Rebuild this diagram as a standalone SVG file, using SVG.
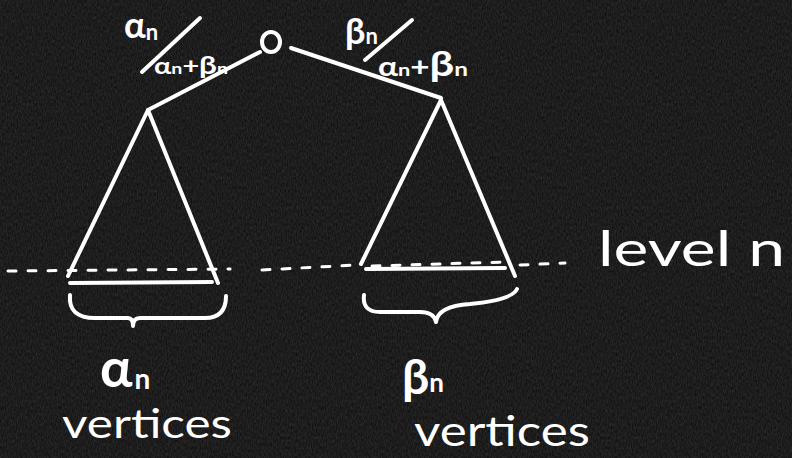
<svg xmlns="http://www.w3.org/2000/svg" width="792" height="458" viewBox="0 0 792 458">
<defs>
<filter id="chalk" x="0" y="0" width="100%" height="100%">
<feTurbulence type="fractalNoise" baseFrequency="0.8 0.3" numOctaves="2" seed="3" result="n"/>
<feColorMatrix in="n" type="matrix" values="0 0 0 0 0.25  0 0 0 0 0.25  0 0 0 0 0.25  0 0 0 0.3 0"/>
</filter>
<style>
.ln{stroke:#fff;stroke-width:4;fill:none;stroke-linecap:round;stroke-linejoin:round}
.dash{stroke:#fff;stroke-width:3;fill:none;stroke-linecap:round;stroke-dasharray:8 12}
.t{fill:#fff;font-family:Lato,"Open Sans",sans-serif;font-weight:700}
.v{fill:#fff;font-family:Lato,"Open Sans",sans-serif;font-weight:400}
</style>
</defs>
<rect width="792" height="458" fill="#0a0a0a"/>
<rect width="792" height="458" filter="url(#chalk)"/>
<g id="connectors">
<path class="ln" d="M260,52 L148,110"/>
<path class="ln" d="M291,48 L441,98"/>
<path class="dash" d="M8,271 L230,269"/>
<path class="dash" d="M262,270 L356,265"/>
<path class="dash" d="M372,266 L505,262"/>
<path class="dash" d="M520,265 L565,263" stroke-dasharray="4 8"/>
</g>
<g id="root">
<ellipse class="ln" cx="271" cy="42" rx="9" ry="10" stroke-width="5"/>
</g>
<g id="left-label">
<text class="t" x="124" y="38" font-size="36">α<tspan font-size="22" dy="2">n</tspan></text>
<path class="ln" d="M142,72 L200,18"/>
<text class="t" x="154" y="74" font-size="22" textLength="74" lengthAdjust="spacingAndGlyphs">α<tspan font-size="15">n</tspan>+<tspan font-size="24">β</tspan><tspan font-size="15">n</tspan></text>
</g>
<g id="right-label">
<text class="t" x="345" y="44" font-size="36">β<tspan font-size="22">n</tspan></text>
<path class="ln" d="M365,60 L412,20"/>
<text class="t" x="378" y="76" font-size="26" textLength="90" lengthAdjust="spacingAndGlyphs">α<tspan font-size="17">n</tspan>+<tspan font-size="34">β</tspan><tspan font-size="19">n</tspan></text>
</g>
<g id="left-tree">
<path class="ln" d="M68,276 L148,110 L218,283"/>
<path class="ln" d="M70,283 L212,282"/>
<path class="ln" d="M70,295 Q68,318 95,318 L128,318 Q133,318 133,326 Q133,318 140,318 L205,318 Q226,318 226,296"/>
</g>
<g id="right-tree">
<path class="ln" d="M361,264 L441,100 L515,276"/>
<path class="ln" d="M366,269 L505,268"/>
<path class="ln" d="M364,295 Q362,312 380,312 L420,312 Q434,312 436,322 Q438,306 470,304 Q512,300 517,289"/>
</g>
<g id="level-label">
<text class="v" x="598" y="266" font-size="48" textLength="187" lengthAdjust="spacingAndGlyphs">level n</text>
</g>
<g id="alpha-count">
<text class="t" x="100" y="387" font-size="54">α<tspan font-size="28" dx="2" dy="2">n</tspan></text>
<text class="v" x="62" y="438" font-size="40" textLength="170" lengthAdjust="spacingAndGlyphs">vertices</text>
</g>
<g id="beta-count">
<text class="t" x="402" y="394" font-size="48">β<tspan font-size="26" dy="-2">n</tspan></text>
<text class="v" x="414" y="446" font-size="42" textLength="176" lengthAdjust="spacingAndGlyphs">vertices</text>
</g>
</svg>
